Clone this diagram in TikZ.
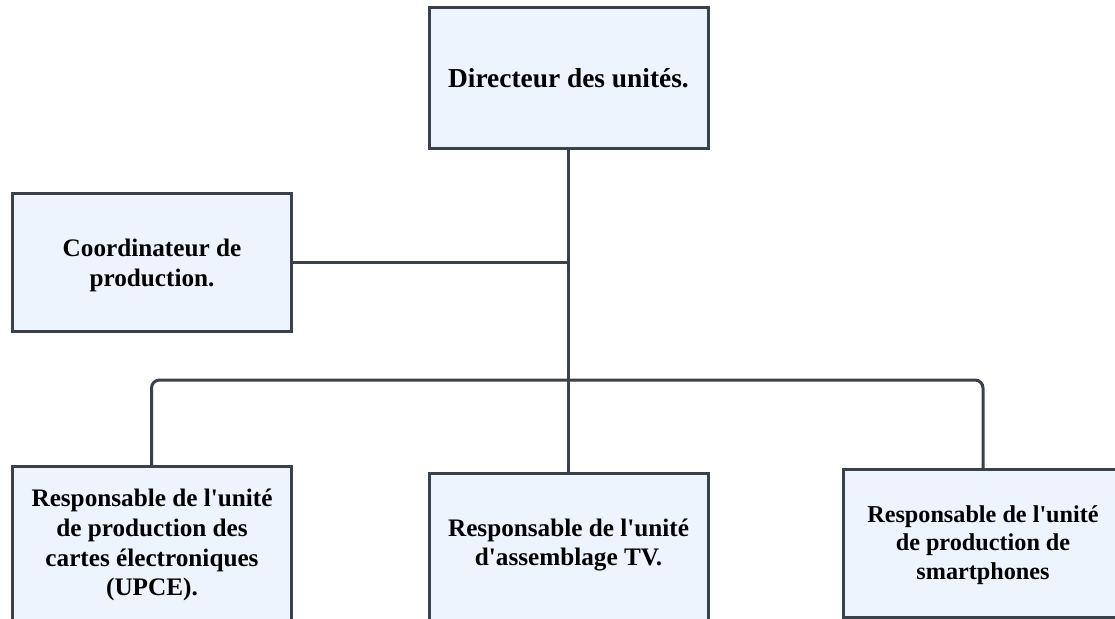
\documentclass[tikz,border=0pt]{standalone}
\usepackage{fontspec}
\setmainfont{Liberation Serif}[Ligatures=TeXOff]
\definecolor{boxfill}{HTML}{EDF4FE}
\definecolor{edgec}{HTML}{3A414A}
\begin{document}
\begin{tikzpicture}[x=1bp,y=-1bp,
  box/.style={draw=edgec, fill=boxfill, line width=3bp, minimum width=279bp, inner sep=0pt, outer sep=0pt, anchor=north west},
  lbl/.style={font=\bfseries\fontsize{25.3}{30}\selectfont, align=center, text=black, inner sep=0pt},
  wire/.style={draw=edgec, line width=3bp, rounded corners=8bp}]
\useasboundingbox (0,0) rectangle (1115,619);
\clip (0,0) rectangle (1115,619);
\coordinate (busl) at (152,380);
% boxes
\node[box, minimum height=140bp] (dir) at (429,8) {};
\node[box, minimum height=137bp] (coord) at (12,194) {};
\node[box, minimum height=170bp] (left) at (12,466) {};
\node[box, minimum height=170bp] (mid) at (429,473) {};
\node[box, minimum height=148bp, minimum width=280bp] (right) at (843,469) {};
\coordinate (bus) at (dir.south |- busl);
\draw[wire] (dir.south) -- (mid.north);
\draw[wire] (coord.east) -- (coord.east -| dir.south);
\draw[wire] (bus) -| (left.north);
\draw[wire] (bus) -| (right.north);
% labels
\node[lbl, font=\bfseries\fontsize{27.5}{32}\selectfont] (tdir) at (568.5,78) {Directeur des unités.};
\node[lbl] (tcoord) at (152,265) {Coordinateur de\\production.};
\node[lbl] (tleft) at (152,545) {Responsable de l'unité\\de production des\\cartes électroniques\\(UPCE).};
\node[lbl] (tmid) at (568.5,545) {Responsable de l'unité\\d'assemblage TV.};
\node[lbl, font=\bfseries\fontsize{24.3}{28.5}\selectfont] (tright) at (983,545) {Responsable de l'unité\\de production de\\smartphones};
\end{tikzpicture}
\end{document}
